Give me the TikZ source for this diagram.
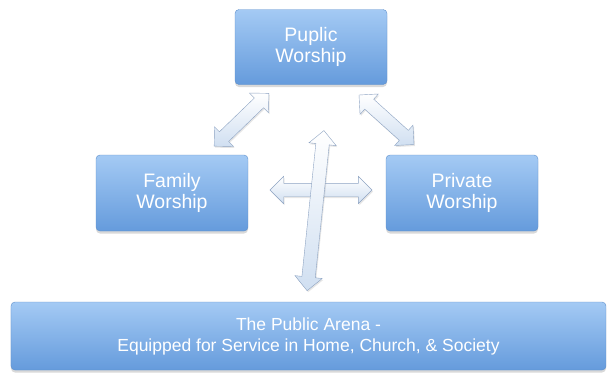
\documentclass[tikz,border=0pt]{standalone}
\usepackage{fontspec}
\setmainfont{Liberation Sans}
\usepackage{xcolor}
\usepackage{tikz}
\usetikzlibrary{shapes.arrows,shadows}

\definecolor{boxtop}{HTML}{A4CAF4}
\definecolor{boxbot}{HTML}{659BDC}
\definecolor{boxline}{HTML}{5E8FCB}
\definecolor{arrline}{HTML}{8DA3C2}
\definecolor{arrfill}{HTML}{D0DFF1}

\begin{document}
\begin{tikzpicture}[x=1bp,y=-1bp,
	box/.style={rectangle,rounded corners=4bp,draw=boxline,top color=boxtop,bottom color=boxbot,text=white,align=center,inner sep=0,font=\fontsize{19.5bp}{21bp}\selectfont,drop shadow={opacity=0.3,shadow xshift=0bp,shadow yshift=-2.5bp}},
	fat/.style={double arrow,draw=arrline,top color=white,bottom color=arrfill,inner sep=6.5bp,double arrow head extend=7bp,drop shadow={opacity=0.2,shadow xshift=1bp,shadow yshift=-1.5bp}}]
	\useasboundingbox (0,0) rectangle (608,375);

	\node[box,minimum width=152bp,minimum height=75bp] (pub) at (311,47) {Puplic\\Worship};
	\node[box,minimum width=152bp,minimum height=76bp] (fam) at (172,193) {Family\\Worship};
	\node[box,minimum width=152bp,minimum height=76bp] (priv) at (462,193) {Private\\Worship};
	\node[box,minimum width=595bp,minimum height=68bp,font=\fontsize{17.5bp}{21bp}\selectfont] (arena) at (308.5,336) {The Public Arena -\\Equipped for Service in Home, Church, \& Society};

\path (fam.north east) -- (pub.south west) node[fat,midway,rotate=44,minimum height=76bp] {};
\path (priv.north west) -- (pub.south east) node[fat,midway,rotate=-42,minimum height=74bp] {};
\path (fam.east) -- (priv.west) node[fat,midway,xshift=4bp,yshift=3bp,minimum height=102bp] {};
\path (pub.south) -- (arena.north) node[fat,pos=0.58,xshift=6bp,rotate=84,minimum height=161bp] {};

\end{tikzpicture}
\end{document}
